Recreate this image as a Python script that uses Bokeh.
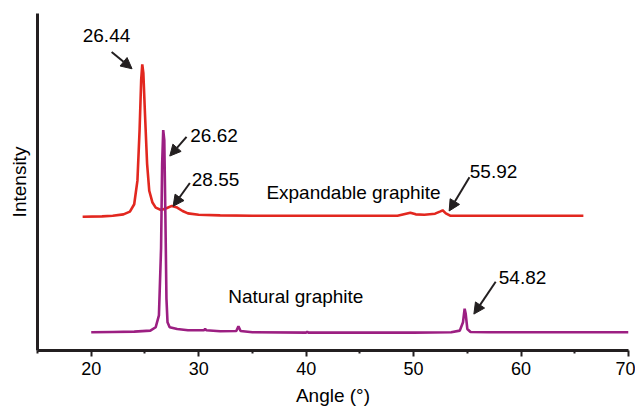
from bokeh.plotting import figure
from bokeh.models import Range1d, FixedTicker, Arrow, NormalHead, Label
from bokeh.embed import file_html
from bokeh.resources import INLINE

# Expandable graphite (red) pattern
exp_angle = [19.2, 21, 22, 23, 23.6, 24.0, 24.3, 24.5, 24.65, 24.75, 24.85, 25.0, 25.2, 25.4, 25.7,
             26.0, 26.5, 27.0, 27.5, 28.0, 28.5, 29.0, 30, 32, 35, 40, 45, 48.5, 49.3, 49.7,
             50.2, 51, 52.0, 52.5, 52.7, 53.0, 53.4, 56, 60, 65.8]
exp_int = [39.7, 39.8, 40.0, 40.4, 41.2, 43.4, 50.4, 65.4, 80.4, 84.9, 82.4, 70.4, 55.4, 47.4, 43.9,
           42.4, 41.7, 42.2, 42.9, 42.4, 41.4, 40.7, 40.3, 40.1, 40.0, 40.0, 40.0, 40.0, 40.6, 40.9,
           40.4, 40.3, 40.6, 41.3, 41.6, 40.7, 40.0, 40.0, 40.0, 40.0]

# Natural graphite (purple) pattern
nat_angle = [20, 22, 24, 25.5, 26.0, 26.3, 26.5, 26.6, 26.7, 26.8, 26.9, 27.0, 27.1, 27.3, 28, 29,
             30.5, 30.6, 30.7, 32, 33.5, 33.7, 33.9, 35, 40, 40.1, 40.2, 45, 50, 53.5, 54.3, 54.6,
             54.75, 54.85, 55.0, 55.3, 57, 60, 65, 70]
nat_int = [5.4, 5.5, 5.6, 5.9, 6.9, 10.4, 30.4, 55.4, 65.4, 62.4, 40.4, 15.4, 8.4, 6.9, 6.4, 6.0,
           6.0, 6.4, 6.0, 5.7, 5.8, 7.2, 5.8, 5.4, 5.3, 5.6, 5.3, 5.3, 5.3, 5.4, 5.9, 8.4,
           12.4, 10.9, 6.4, 5.5, 5.4, 5.4, 5.4, 5.4]

x_major = [20, 30, 40, 50, 60, 70]
x_minor = [15, 25, 35, 45, 55, 65]

FONT = "Liberation Sans"
RED = "#e2271f"
PURPLE = "#9c1f82"
INK = "#231f20"

p = figure(width=635, height=408, output_backend="svg", toolbar_location=None,
           x_range=Range1d(15, 70), y_range=Range1d(0, 100),
           min_border_left=37, min_border_right=7, min_border_top=13, min_border_bottom=56)
p.outline_line_color = None
p.grid.visible = False
p.background_fill_color = "white"

p.line(exp_angle, exp_int, line_color=RED, line_width=2.6)
p.line(nat_angle, nat_int, line_color=PURPLE, line_width=2.6)

xa = p.xaxis[0]
xa.ticker = FixedTicker(ticks=x_major, minor_ticks=x_minor)
xa.axis_line_width = 3
xa.axis_line_color = INK
xa.major_tick_line_width = 2
xa.major_tick_line_color = INK
xa.major_tick_out = 6
xa.major_tick_in = 0
xa.minor_tick_line_width = 2
xa.minor_tick_line_color = INK
xa.minor_tick_out = 3
xa.minor_tick_in = 0
xa.major_label_text_font = FONT
xa.major_label_text_font_size = "18px"
xa.major_label_text_color = "black"
xa.major_label_standoff = 5
xa.axis_label = "Angle (°)"
xa.axis_label_text_font = FONT
xa.axis_label_text_font_size = "19px"
xa.axis_label_text_font_style = "normal"
xa.axis_label_text_color = "black"
xa.axis_label_standoff = 7

ya = p.yaxis[0]
ya.ticker = FixedTicker(ticks=[])
ya.axis_line_width = 3
ya.axis_line_color = INK
ya.major_tick_line_color = None
ya.minor_tick_line_color = None
ya.major_label_text_font_size = "0px"
ya.major_label_standoff = 0
ya.axis_label = "Intensity"
ya.axis_label_text_font = FONT
ya.axis_label_text_font_size = "19px"
ya.axis_label_text_font_style = "normal"
ya.axis_label_text_color = "black"
ya.axis_label_standoff = 8

# annotations: (text, x, y, arrow start x, y, arrow end x, y)
notes = [
    ("26.44", 21.42, 93.5, 21.9, 88.6, 23.8, 83.6),
    ("26.62", 31.43, 63.9, 28.87, 63.4, 27.31, 57.7),
    ("28.55", 31.57, 50.6, 29.18, 49.7, 27.62, 42.8),
    ("55.92", 57.44, 53.0, 55.2, 51.4, 53.31, 41.4),
    ("54.82", 60.14, 21.8, 57.64, 20.4, 55.61, 10.8),
]
for t, tx, ty, xs, ys, xe, ye in notes:
    p.add_layout(Label(x=tx, y=ty, text=t, text_font=FONT, text_font_size="19px",
                       text_align="center", text_baseline="middle", text_color="black"))
    p.add_layout(Arrow(x_start=xs, y_start=ys, x_end=xe, y_end=ye, line_width=2, line_color=INK,
                       end=NormalHead(size=11, fill_color=INK, line_color=INK, line_width=1)))

p.add_layout(Label(x=36.3, y=46.9, text="Expandable graphite", text_font=FONT, text_font_size="19px",
                   text_align="left", text_baseline="middle", text_color="black"))
p.add_layout(Label(x=32.75, y=16.0, text="Natural graphite", text_font=FONT, text_font_size="19px",
                   text_align="left", text_baseline="middle", text_color="black"))

open("out.html", "w").write(file_html(p, INLINE))
